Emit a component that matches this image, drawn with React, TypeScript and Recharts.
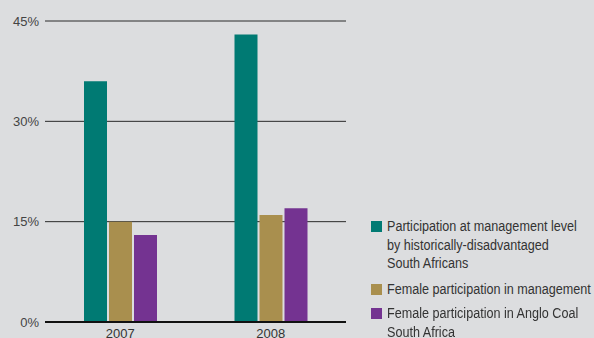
import { BarChart, Bar, XAxis, YAxis, CartesianGrid } from 'recharts'

const years = ['2007', '2008']
const hdsaManagement = [36, 43]
const femaleManagement = [15, 16]
const femaleAngloCoal = [13, 17]
const yTicks = [0, 15, 30, 45]

const legendLines = [
  ['Participation at management level', 'by historically-disadvantaged', 'South Africans'],
  ['Female participation in management'],
  ['Female participation in Anglo Coal', 'South Africa'],
]
const colors = ['#007a73', '#a98f4e', '#743391']

const data = years.map((year, i) => ({
  year,
  hdsa: hdsaManagement[i],
  female: femaleManagement[i],
  angloCoal: femaleAngloCoal[i],
}))

const font = '"Liberation Sans", Arial, sans-serif'

// legend sits beside the plot, outside recharts' layout so it doesn't eat plot width
function LegendBox() {
  return (
    <div
      style={{
        position: 'absolute',
        left: 371,
        top: 217,
        fontFamily: font,
        fontSize: 14,
        color: '#333',
        lineHeight: '18.5px',
      }}
    >
      {legendLines.map((lines, i) => (
        <div key={i} style={{ display: 'flex', marginBottom: i === 0 ? 7 : 6 }}>
          <span
            style={{
              width: 11,
              height: 11,
              background: colors[i],
              marginTop: 4,
              marginRight: 5,
              flexShrink: 0,
            }}
          />
          <div style={{ whiteSpace: 'nowrap', transform: 'scaleX(0.9)', transformOrigin: 'left' }}>
            {lines.map((l, j) => (
              <div key={j}>{l}</div>
            ))}
          </div>
        </div>
      ))}
    </div>
  )
}

export default function App() {
  return (
    <div style={{ position: 'fixed', top: 0, left: 0, width: 594, height: 338, background: '#dcdddf' }}>
      <BarChart
        width={594}
        height={338}
        data={data}
        margin={{ top: 21, right: 248, bottom: 0, left: 0 }}
        barSize={23}
        barGap={2}
        style={{ fontFamily: font }}
      >
        <CartesianGrid horizontal vertical={false} stroke="#2a2a2a" strokeOpacity={1} />
        <XAxis
          dataKey="year"
          height={16}
          tickLine={false}
          tickMargin={1}
          axisLine={{ stroke: '#111', strokeWidth: 2 }}
          tick={{ fill: '#333', fontSize: 13 }}
        />
        <YAxis
          width={45}
          domain={[0, 45]}
          ticks={yTicks}
          tickFormatter={(v) => `${v}%`}
          axisLine={false}
          tickLine={false}
          tickSize={4}
          tickMargin={2}
          tick={{ fill: '#444', fontSize: 13 }}
        />
        <Bar dataKey="hdsa" fill={colors[0]} isAnimationActive={false} />
        <Bar dataKey="female" fill={colors[1]} isAnimationActive={false} />
        <Bar dataKey="angloCoal" fill={colors[2]} isAnimationActive={false} />
      </BarChart>
      <LegendBox />
    </div>
  )
}
